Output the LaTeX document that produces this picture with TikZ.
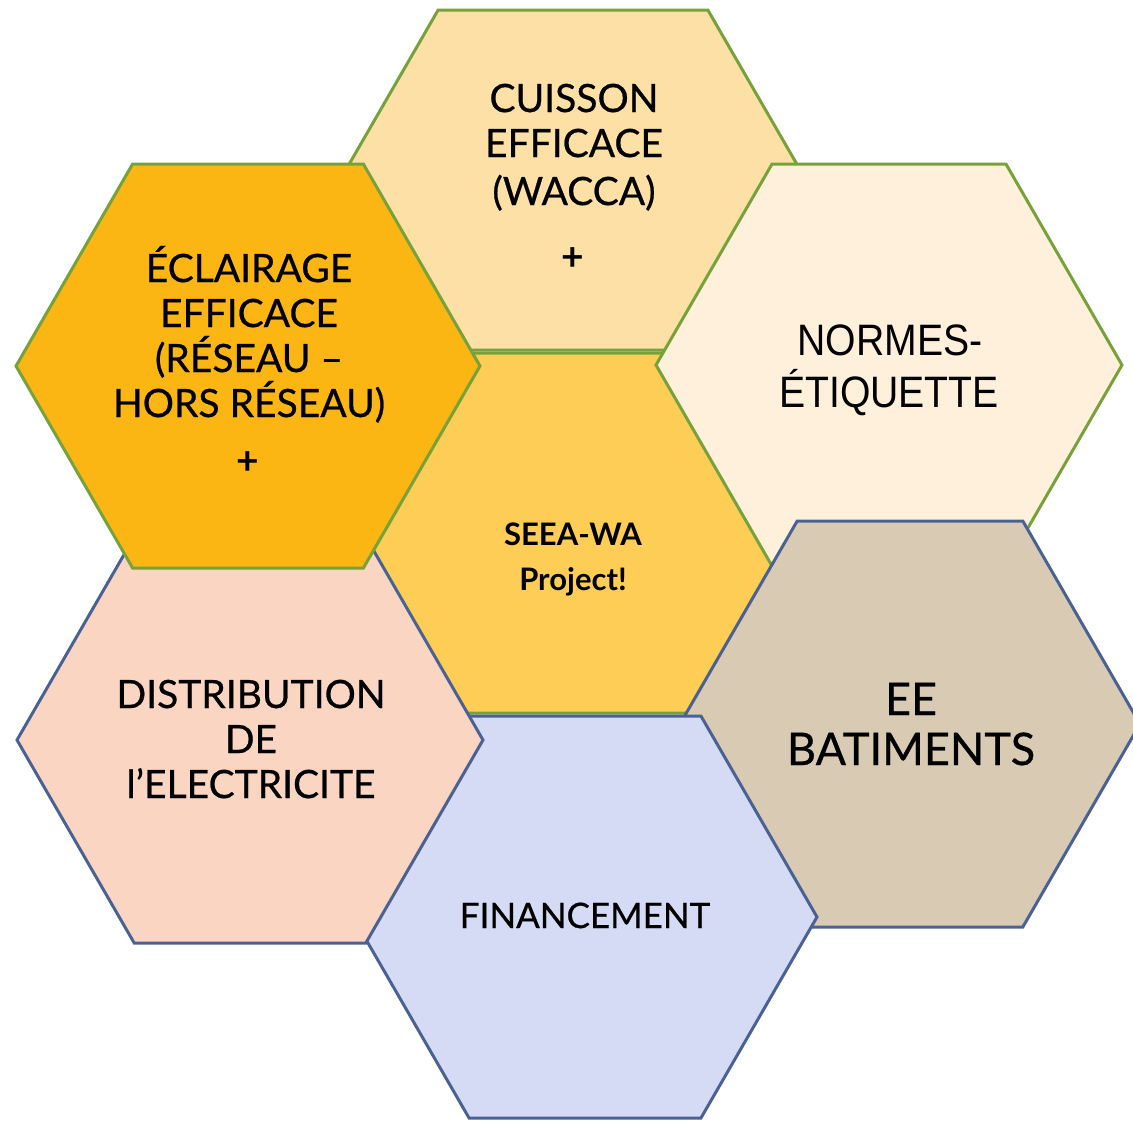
\documentclass[tikz,border=0pt]{standalone}
\usepackage{fontspec}
\setmainfont{Lato}
\newfontfamily\latoheavy{Lato}[FakeBold=0.6]
\newfontfamily\arialf{Liberation Sans}
\definecolor{gborder}{HTML}{77A13A}
\definecolor{bborder}{HTML}{4A6293}
\definecolor{cCenter}{HTML}{FDCD55}
\definecolor{cCuis}{HTML}{FCE0A5}
\definecolor{cNorm}{HTML}{FEF0DA}
\definecolor{cEE}{HTML}{D9CBB3}
\definecolor{cFin}{HTML}{D5DBF5}
\definecolor{cDist}{HTML}{FAD5C2}
\definecolor{cEcl}{HTML}{FBB613}
\newcommand{\hexat}[5]{%
\draw[#1] ({#2-#4},#3) -- ({#2-#4+0.57735*#5},{#3-#5}) -- ({#2+#4-0.57735*#5},{#3-#5}) -- ({#2+#4},#3) -- ({#2+#4-0.57735*#5},{#3+#5}) -- ({#2-#4+0.57735*#5},{#3+#5}) -- cycle;}
\tikzset{
  hexg/.style={draw=gborder, line width=3pt},
  hexb/.style={draw=bborder, line width=3pt},
  lbl/.style={anchor=base, inner sep=0pt, font=\fontsize{39}{45}\selectfont\latoheavy},
  lblbig/.style={anchor=base, inner sep=0pt, font=\fontsize{45}{50}\selectfont\latoheavy},
  lblfin/.style={anchor=base, inner sep=0pt, font=\fontsize{35}{40}\selectfont\latoheavy},
  lblbold/.style={anchor=base, inner sep=0pt, font=\fontsize{31}{36}\selectfont\bfseries},
  lblarial/.style={anchor=base, inner sep=0pt, font=\fontsize{44}{50}\selectfont\arialf},
  plussign/.style={anchor=center, inner sep=0pt, font=\fontsize{39}{45}\selectfont\bfseries}
}
\begin{document}
\begin{tikzpicture}[x=1pt,y=-1pt]
\useasboundingbox (0,0) rectangle (1133,1120);
\clip (0,0) rectangle (1133,1120);
% hexagons, back to front
\hexat{hexg, fill=cCenter}{573}{533}{232}{180}
\hexat{hexg, fill=cCuis}{573}{180}{233}{170}
\hexat{hexg, fill=cNorm}{889}{365}{233}{201}
\hexat{hexb, fill=cEE}{910}{724}{230}{203}
\hexat{hexb, fill=cFin}{585}{917}{232}{201}
\hexat{hexb, fill=cDist}{250}{740}{233}{203}
\hexat{hexg, fill=cEcl}{248}{366}{232}{202}
% CUISSON
\node[lbl] (cu1) at (574,112) {CUISSON};
\node[lbl] (cu2) at (574,157) {EFFICACE};
\node[lbl] (cu3) at (574,205) {(WACCA)};
\node[plussign] (cup) at (573,259) {+};
% ECLAIRAGE
\node[lbl] (ec1) at (249,282) {ÉCLAIRAGE};
\node[lbl] (ec2) at (249,327) {EFFICACE};
\node[lbl] (ec3) at (249,372) {(RÉSEAU –};
\node[lbl] (ec4) at (249,417) {HORS RÉSEAU)};
\node[plussign] (ecp) at (248,463) {+};
% NORMES
\node[lblarial] (no1) at (890,355) {\scalebox{0.89}[1]{NORMES-}};
\node[lblarial] (no2) at (889,407) {\scalebox{0.89}[1]{ÉTIQUETTE}};
% center
\node[lblbold] (se1) at (573,545) {SEEA-WA};
\node[lblbold] (se2) at (573,590) {Project!};
% DISTRIBUTION
\node[lbl] (di1) at (251,708) {DISTRIBUTION};
\node[lbl] (di2) at (251,753) {DE};
\node[lbl] (di3) at (251,798) {l’ELECTRICITE};
% EE
\node[lblbig] (ee1) at (911,715) {EE};
\node[lblbig] (ee2) at (911,765) {BATIMENTS};
% FINANCEMENT
\node[lblfin] (fi1) at (585,928) {FINANCEMENT};
\end{tikzpicture}
\end{document}
